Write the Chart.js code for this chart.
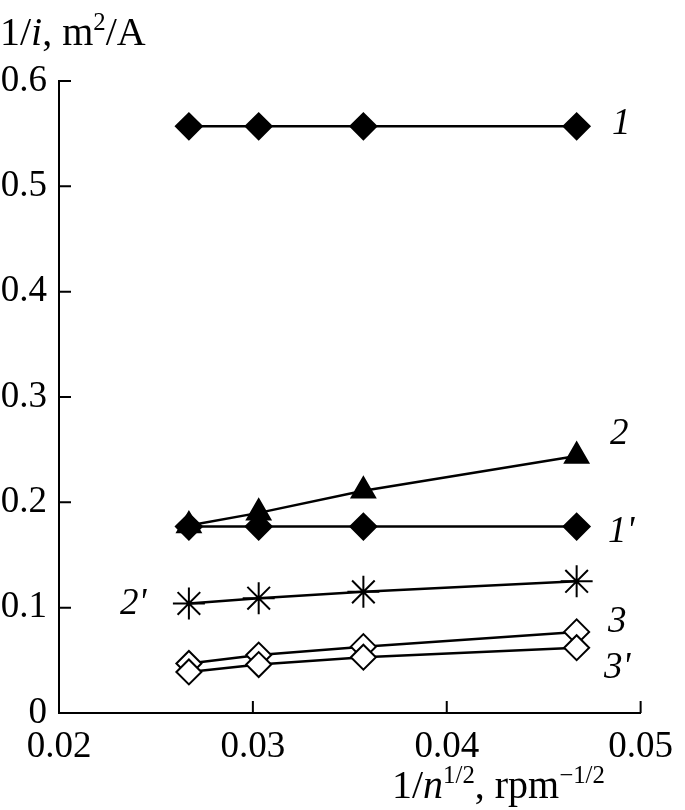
<!DOCTYPE html>
<html lang="en">
<head>
  <meta charset="UTF-8" />
  <title>1/i vs 1/n^1/2</title>
  <script src="https://cdn.jsdelivr.net/npm/chart.js"></script>
  <style>
    body { margin: 0; background: #fff; }
    #wrap { width: 685px; height: 810px; }
  </style>
</head>
<body>
  <div id="wrap"><canvas id="chart" width="685" height="810"></canvas></div>
  <script>
    // rotation speed axis, 1/n^(1/2), rpm^-1/2
    const xVals = [0.0267, 0.0303, 0.0357, 0.0467];

    // 1/i, m2/A
    const s1  = [0.557, 0.557, 0.557, 0.557];
    const s1p = [0.177, 0.177, 0.177, 0.177];
    const s2  = [0.178, 0.190, 0.211, 0.244];
    const s2p = [0.104, 0.109, 0.115, 0.125];
    const s3  = [0.047, 0.055, 0.063, 0.077];
    const s3p = [0.039, 0.046, 0.053, 0.062];

    const xTicks = [0.02, 0.03, 0.04, 0.05];
    const yTicks = [0, 0.1, 0.2, 0.3, 0.4, 0.5, 0.6];

    const curveLabels = [
      { text: '1',  x: 612, y: 134 },
      { text: '2',  x: 610, y: 444 },
      { text: "1'", x: 608, y: 542 },
      { text: "2'", x: 120, y: 614 },
      { text: '3',  x: 608, y: 632 },
      { text: "3'", x: 604, y: 678 }
    ];

    const SERIF = '"Liberation Serif", "DejaVu Serif", serif';

    function pts(ys) {
      return xVals.map((x, i) => ({ x: x, y: ys[i] }));
    }

    function drawRich(ctx, parts, x, y, size) {
      let cx = x;
      parts.forEach(p => {
        const s = p.sup ? size * 0.62 : size;
        ctx.font = (p.it ? 'italic ' : '') + s + 'px ' + SERIF;
        ctx.fillText(p.t, cx, p.sup ? y - size * 0.38 : y);
        cx += ctx.measureText(p.t).width;
      });
    }

    const decorations = {
      id: 'decorations',
      afterDraw(chart) {
        const ctx = chart.ctx;
        const xs = chart.scales.x, ys = chart.scales.y;
        ctx.save();
        ctx.strokeStyle = '#000';
        ctx.fillStyle = '#000';
        ctx.lineWidth = 2;
        // inward tick marks
        ctx.beginPath();
        xTicks.forEach(v => {
          const px = xs.getPixelForValue(v);
          ctx.moveTo(px, ys.bottom);
          ctx.lineTo(px, ys.bottom - 12);
        });
        yTicks.forEach(v => {
          const py = ys.getPixelForValue(v);
          ctx.moveTo(xs.left, py);
          ctx.lineTo(xs.left + 12, py);
        });
        ctx.stroke();

        ctx.textBaseline = 'alphabetic';
        ctx.textAlign = 'left';
        drawRich(ctx, [{ t: '1/' }, { t: 'i', it: true }, { t: ', m' }, { t: '2', sup: true }, { t: '/A' }], 0, 45, 40);
        drawRich(ctx, [{ t: '1/' }, { t: 'n', it: true }, { t: '1/2', sup: true }, { t: ', rpm' }, { t: '\u22121/2', sup: true }], 392, 798, 40);

        ctx.font = 'italic 37px ' + SERIF;
        curveLabels.forEach(l => ctx.fillText(l.text, l.x, l.y));
        ctx.restore();
      }
    };

    const base = {
      borderColor: '#000',
      borderWidth: 2.5,
      pointBorderColor: '#000',
      pointBorderWidth: 2,
      showLine: true,
      clip: false,
      tension: 0
    };

    new Chart(document.getElementById('chart'), {
      type: 'scatter',
      data: {
        datasets: [
          { ...base, label: '1',  data: pts(s1),  order: 0, pointStyle: 'rectRot', pointRadius: 13, pointBackgroundColor: '#000' },
          { ...base, label: "1'", data: pts(s1p), order: 1, pointStyle: 'rectRot', pointRadius: 13, pointBackgroundColor: '#000' },
          { ...base, label: '2',  data: pts(s2),  order: 2, pointStyle: 'triangle', pointRadius: 13.5, pointBackgroundColor: '#000' },
          { ...base, label: "2'", data: pts(s2p), order: 3, pointStyle: 'star', pointRadius: 16, pointBackgroundColor: '#000' },
          { ...base, label: '3',  data: pts(s3),  order: 5, pointStyle: 'rectRot', pointRadius: 12.5, pointBackgroundColor: '#fff' },
          { ...base, label: "3'", data: pts(s3p), order: 4, pointStyle: 'rectRot', pointRadius: 12.5, pointBackgroundColor: '#fff' }
        ]
      },
      options: {
        responsive: false,
        animation: false,
        events: [],
        layout: { padding: { top: 81, right: 36, left: 0, bottom: 0 } },
        plugins: { legend: { display: false }, tooltip: { enabled: false } },
        scales: {
          x: {
            type: 'linear',
            min: 0.02,
            max: 0.05,
            afterFit: s => { s.height = 97; },
            afterBuildTicks: s => { s.ticks = xTicks.map(v => ({ value: v })); },
            grid: { display: false, drawTicks: false },
            border: { display: true, color: '#000', width: 2 },
            ticks: {
              color: '#000',
              padding: 12,
              maxRotation: 0,
              font: { family: SERIF, size: 37 },
              callback: v => v.toFixed(2)
            }
          },
          y: {
            type: 'linear',
            min: 0,
            max: 0.6,
            afterFit: s => { s.width = 59; },
            afterBuildTicks: s => { s.ticks = yTicks.map(v => ({ value: v })); },
            grid: { display: false, drawTicks: false },
            border: { display: true, color: '#000', width: 2 },
            ticks: {
              color: '#000',
              padding: 12,
              font: { family: SERIF, size: 37 },
              callback: v => v === 0 ? '0' : v.toFixed(1)
            }
          }
        }
      },
      plugins: [decorations]
    });
  </script>
</body>
</html>
